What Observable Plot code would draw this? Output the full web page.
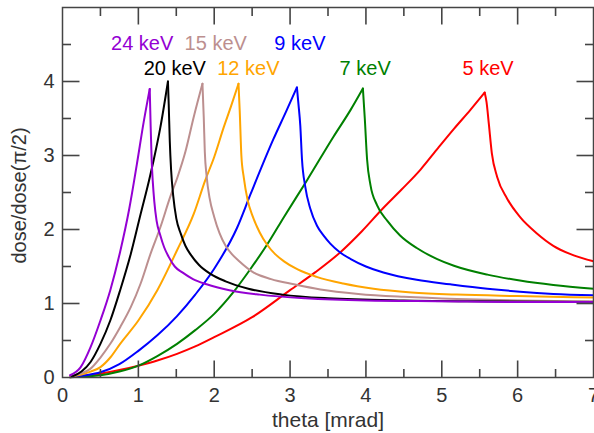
<!DOCTYPE html>
<html>
<head>
<meta charset="utf-8">
<script src="https://cdn.jsdelivr.net/npm/d3@7"></script>
<script src="https://cdn.jsdelivr.net/npm/@observablehq/plot@0.6"></script>
<style>
  html, body { margin: 0; padding: 0; background: #fff; }
  #chart svg { display: block; }
</style>
</head>
<body>
<div id="chart"></div>
<script>
// ---- Data ----
const seriesNames = ["24 keV", "20 keV", "15 keV", "12 keV", "9 keV", "7 keV", "5 keV"];
const seriesColors = ["#9400d3", "#000000", "#bc8f8f", "#ffa500", "#0000ff", "#008000", "#ff0000"];

const theta24 = [0.10, 0.24, 0.37, 0.50, 0.63, 0.76, 0.88, 0.98, 1.07, 1.15, 1.162, 1.175, 1.19, 1.21, 1.24, 1.29, 1.34, 1.40, 1.48, 1.58, 1.72, 1.90, 2.20, 2.60, 3.20, 4.00, 5.00, 6.00, 7.00];
const dose24  = [0.03, 0.14, 0.41, 0.77, 1.18, 1.70, 2.28, 2.88, 3.45, 3.90, 3.40, 2.95, 2.65, 2.38, 2.12, 1.92, 1.76, 1.63, 1.50, 1.42, 1.33, 1.26, 1.18, 1.12, 1.07, 1.04, 1.03, 1.02, 1.02];

const theta20 = [0.12, 0.25, 0.37, 0.50, 0.63, 0.76, 0.90, 1.03, 1.14, 1.20, 1.29, 1.39, 1.40, 1.414, 1.432, 1.46, 1.50, 1.56, 1.62, 1.69, 1.80, 1.95, 2.15, 2.45, 2.90, 3.50, 4.50, 5.50, 7.00];
const dose20  = [0.01, 0.08, 0.21, 0.455, 0.77, 1.18, 1.67, 2.21, 2.66, 2.93, 3.38, 4.00, 3.70, 3.20, 2.80, 2.45, 2.15, 1.94, 1.78, 1.66, 1.52, 1.40, 1.30, 1.20, 1.12, 1.07, 1.04, 1.03, 1.02];

const theta15 = [0.10, 0.23, 0.37, 0.50, 0.63, 0.76, 0.90, 1.03, 1.16, 1.29, 1.42, 1.52, 1.62, 1.73, 1.845, 1.862, 1.876, 1.90, 1.94, 2.00, 2.07, 2.15, 2.23, 2.33, 2.50, 2.75, 3.05, 3.40, 3.90, 4.50, 5.20, 6.00, 7.00];
const dose15  = [0.01, 0.05, 0.12, 0.27, 0.455, 0.68, 0.95, 1.27, 1.67, 2.03, 2.44, 2.72, 3.05, 3.52, 3.97, 3.52, 3.05, 2.72, 2.42, 2.17, 1.95, 1.78, 1.67, 1.57, 1.43, 1.33, 1.26, 1.19, 1.13, 1.09, 1.06, 1.04, 1.03];

const theta12 = [0.10, 0.25, 0.37, 0.50, 0.63, 0.76, 1.00, 1.25, 1.51, 1.73, 1.88, 2.00, 2.125, 2.22, 2.32, 2.336, 2.358, 2.39, 2.44, 2.51, 2.60, 2.70, 2.80, 2.92, 3.10, 3.35, 3.70, 4.10, 4.60, 5.20, 6.00, 7.00];
const dose12  = [0.01, 0.04, 0.08, 0.14, 0.27, 0.455, 0.77, 1.18, 1.72, 2.21, 2.66, 2.98, 3.38, 3.66, 3.97, 3.61, 3.00, 2.70, 2.40, 2.17, 1.96, 1.79, 1.67, 1.57, 1.46, 1.36, 1.27, 1.20, 1.15, 1.12, 1.10, 1.08];

const theta9 = [0.10, 0.30, 0.50, 0.75, 1.00, 1.25, 1.51, 1.75, 2.00, 2.30, 2.48, 2.78, 2.95, 3.09, 3.11, 3.135, 3.157, 3.20, 3.267, 3.355, 3.44, 3.53, 3.66, 3.80, 4.00, 4.23, 4.67, 5.11, 5.60, 6.03, 6.47, 7.00];
const dose9  = [0.005, 0.03, 0.07, 0.18, 0.36, 0.57, 0.83, 1.12, 1.47, 2.02, 2.48, 3.22, 3.60, 3.92, 3.70, 3.40, 2.95, 2.58, 2.28, 2.05, 1.92, 1.81, 1.69, 1.60, 1.50, 1.42, 1.32, 1.26, 1.20, 1.16, 1.13, 1.11];

const theta7 = [0.10, 0.30, 0.50, 0.75, 1.00, 1.25, 1.51, 1.75, 2.00, 2.25, 2.48, 2.70, 2.92, 3.22, 3.57, 3.80, 3.96, 3.985, 4.015, 4.06, 4.146, 4.28, 4.45, 4.67, 4.94, 5.16, 5.60, 6.03, 6.47, 7.00];
const dose7  = [0.005, 0.015, 0.03, 0.08, 0.16, 0.29, 0.455, 0.64, 0.86, 1.15, 1.47, 1.80, 2.17, 2.66, 3.25, 3.62, 3.905, 3.50, 2.95, 2.60, 2.33, 2.12, 1.92, 1.75, 1.60, 1.51, 1.39, 1.31, 1.25, 1.20];

const theta5 = [0.10, 0.25, 0.50, 0.75, 1.00, 1.25, 1.51, 1.75, 2.00, 2.50, 3.00, 3.33, 3.66, 3.95, 4.21, 4.47, 4.72, 4.95, 5.16, 5.38, 5.565, 5.59, 5.62, 5.66, 5.73, 5.86, 6.03, 6.25, 6.47, 6.69, 7.00];
const dose5  = [0.005, 0.02, 0.05, 0.10, 0.16, 0.23, 0.32, 0.42, 0.545, 0.815, 1.18, 1.42, 1.69, 1.98, 2.27, 2.54, 2.81, 3.10, 3.36, 3.62, 3.85, 3.72, 3.43, 3.03, 2.71, 2.42, 2.17, 1.95, 1.78, 1.67, 1.57];

// label anchor positions (data coordinates) for the energy annotations
const labelTheta = [1.05, 1.48, 2.02, 2.45, 3.13, 3.99, 5.61];
const labelDose  = [4.51, 4.17, 4.51, 4.17, 4.51, 4.17, 4.17];

const xTickValues = [0, 1, 2, 3, 4, 5, 6, 7];
const yTickValues = [0, 1, 2, 3, 4];
const xMajor = [1, 2, 3, 4, 5, 6];
const xMinor = [0.5, 1.5, 2.5, 3.5, 4.5, 5.5, 6.5];
const yMajor = [1, 2, 3, 4];
const yMinor = [0.5, 1.5, 2.5, 3.5, 4.5];

// ---- Build tables ----
const thetas = [theta24, theta20, theta15, theta12, theta9, theta7, theta5];
const doses = [dose24, dose20, dose15, dose12, dose9, dose7, dose5];
const series = seriesNames.map((name, i) => {
  const rows = thetas[i].map((t, j) => ({theta: t, dose: doses[i][j]}));
  const peak = d3.maxIndex(rows, d => d.dose);
  return {name, color: seriesColors[i], rising: rows.slice(0, peak + 1), falling: rows.slice(peak)};
});
const labels = seriesNames.map((name, i) => ({name, theta: labelTheta[i], dose: labelDose[i], color: seriesColors[i]}));

// ---- Layout ----
const W = 594, H = 433, mL = 62, mR = 1, mT = 7, mB = 56;
const xDomain = [0, 7], yDomain = [0, 5];
const frameW = W - mL - mR, frameH = H - mT - mB;
const major = 17, minor = 8.5;                 // tick lengths in px
const xPerPx = (xDomain[1] - xDomain[0]) / frameW;
const yPerPx = (yDomain[1] - yDomain[0]) / frameH;
const axisColor = "#444";
const tickOpts = {stroke: axisColor, strokeWidth: 1.6};
const xTicks = (vals, len) => [
  Plot.link(vals, {x1: d => d, x2: d => d, y1: () => yDomain[0], y2: () => yDomain[0] + len * yPerPx, ...tickOpts}),
  Plot.link(vals, {x1: d => d, x2: d => d, y1: () => yDomain[1], y2: () => yDomain[1] - len * yPerPx, ...tickOpts})
];
const yTicks = (vals, len) => [
  Plot.link(vals, {y1: d => d, y2: d => d, x1: () => xDomain[0], x2: () => xDomain[0] + len * xPerPx, ...tickOpts}),
  Plot.link(vals, {y1: d => d, y2: d => d, x1: () => xDomain[1], x2: () => xDomain[1] - len * xPerPx, ...tickOpts})
];

const drawOrder = [6, 5, 4, 3, 2, 1, 0];

const chart = Plot.plot({
  width: W,
  height: H,
  marginLeft: mL,
  marginRight: mR,
  marginTop: mT,
  marginBottom: mB,
  x: {domain: xDomain, label: null},
  y: {domain: yDomain, label: null},
  style: {fontFamily: "'Liberation Sans', Arial, sans-serif", fontSize: "20px", background: "#fff", color: "#333"},
  marks: [
    ...drawOrder.flatMap(i => [
      Plot.line(series[i].rising, {x: "theta", y: "dose", stroke: series[i].color, strokeWidth: 2, curve: "monotone-x"}),
      Plot.line(series[i].falling, {x: "theta", y: "dose", stroke: series[i].color, strokeWidth: 2, curve: "monotone-x"})
    ]),
    Plot.text(labels, {x: "theta", y: "dose", text: "name", fill: "color", fontSize: 20, lineAnchor: "middle", textAnchor: "middle"}),
    Plot.axisX(xTickValues, {anchor: "bottom", tickSize: 0, tickPadding: 10, fontSize: 20, fill: "#333", label: null, tickFormat: d => String(d)}),
    Plot.axisY(yTickValues, {anchor: "left", tickSize: 0, tickPadding: 8, fontSize: 20, fill: "#333", label: null, tickFormat: d => String(d)}),
    Plot.text(["theta [mrad]"], {frameAnchor: "bottom", textAnchor: "middle", lineAnchor: "top", dy: 35, fontSize: 21, fill: "#333"}),
    Plot.text(["dose/dose(π/2)"], {frameAnchor: "left", textAnchor: "middle", rotate: -90, lineAnchor: "middle", dx: -43, dy: 3, fontSize: 20, fill: "#333"}),
    Plot.frame({stroke: axisColor, strokeWidth: 1.5}),
    ...xTicks(xMajor, major),
    ...xTicks(xMinor, minor),
    ...yTicks(yMajor, major),
    ...yTicks(yMinor, minor)
  ]
});
document.getElementById("chart").append(chart);
</script>
</body>
</html>
